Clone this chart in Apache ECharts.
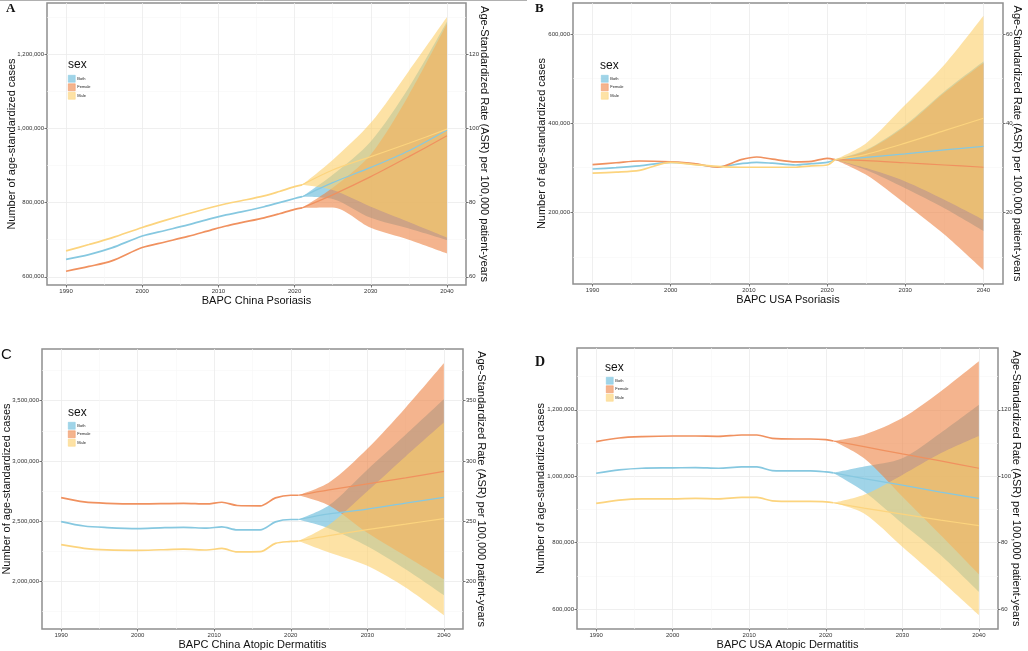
<!DOCTYPE html>
<html>
<head>
<meta charset="utf-8">
<script src="https://cdn.jsdelivr.net/npm/echarts@6/dist/echarts.min.js"></script>
<style>
  html, body { margin: 0; padding: 0; background: #fff; }
  #chart { width: 1028px; height: 651px; }
</style>
</head>
<body>
<div id="chart"></div>
<script>
// ---- data ----
const histYears = [1990, 1993, 1996, 2000, 2003, 2006, 2009, 2011, 2013, 2016, 2018, 2020, 2021];
const projYears = [2021, 2025, 2030, 2035, 2040];
const yearTicks = [1990, 2000, 2010, 2020, 2030, 2040];
const sexes = ['Both', 'Female', 'Male'];

// A: China psoriasis
const aHistBoth   = [647000, 660000, 678000, 710000, 725000, 740000, 757000, 767000, 775000, 789000, 800000, 811000, 816000];
const aHistFemale = [615000, 628000, 643000, 679000, 694000, 709000, 726000, 737000, 746000, 759000, 770000, 782000, 786000];
const aHistMale   = [670000, 687000, 705000, 733000, 752000, 770000, 787000, 797000, 805000, 818000, 830000, 843000, 848000];
const aProjBoth   = [816000, 854000, 895000, 940000, 996000];
const aProjFemale = [786000, 821000, 870000, 924000, 980000];
const aProjMale   = [848000, 888000, 924000, 960000, 998000];
const aLowBoth    = [816000, 810000, 759000, 730000, 699000];
const aUpBoth     = [816000, 875000, 965000, 1110000, 1288000];
const aLowFemale  = [786000, 787000, 732000, 700000, 663000];
const aUpFemale   = [786000, 840000, 930000, 1090000, 1282000];
const aLowMale    = [848000, 834000, 789000, 748000, 706000];
const aUpMale     = [848000, 915000, 1015000, 1155000, 1300000];
const aCaseTicks  = [600000, 800000, 1000000, 1200000];
const aRateTicks  = [60, 80, 100, 120];

// B: USA psoriasis
const bHistBoth   = [297000, 300000, 304000, 312000, 308000, 302000, 309000, 312000, 310000, 306000, 309000, 312000, 318000];
const bHistFemale = [307000, 311000, 315000, 313000, 309000, 301000, 318000, 324000, 319000, 313000, 314000, 321000, 318000];
const bHistMale   = [288000, 290000, 294000, 312000, 307000, 303000, 301000, 301000, 301000, 301000, 304000, 306000, 318000];
const bProjBoth   = [318000, 323000, 331000, 340000, 348000];
const bProjFemale = [318000, 316000, 311000, 306000, 301000];
const bProjMale   = [318000, 330000, 355000, 383000, 411000];
const bLowBoth    = [318000, 295000, 254000, 209000, 158000];
const bUpBoth     = [318000, 340000, 396000, 471000, 538000];
const bLowFemale  = [318000, 284000, 219000, 150000, 70000];
const bUpFemale   = [318000, 338000, 393000, 468000, 535000];
const bLowMale    = [318000, 299000, 269000, 228000, 183000];
const bUpMale     = [318000, 355000, 441000, 531000, 641000];
const bCaseTicks  = [200000, 400000, 600000];
const bRateTicks  = [20, 40, 60];

// C: China atopic dermatitis
const cHistBoth   = [2497000, 2460000, 2447000, 2439000, 2445000, 2449000, 2442000, 2453000, 2428000, 2428000, 2494000, 2514000, 2514000];
const cHistFemale = [2695000, 2660000, 2648000, 2643000, 2645000, 2648000, 2643000, 2657000, 2630000, 2627000, 2693000, 2715000, 2715000];
const cHistMale   = [2305000, 2275000, 2262000, 2258000, 2263000, 2268000, 2261000, 2274000, 2245000, 2247000, 2316000, 2332000, 2335000];
const cProjBoth   = [2514000, 2560000, 2600000, 2650000, 2698000];
const cProjFemale = [2715000, 2760000, 2810000, 2860000, 2913000];
const cProjMale   = [2335000, 2380000, 2430000, 2475000, 2522000];
const cLowBoth    = [2514000, 2440000, 2293000, 2101000, 1886000];
const cUpBoth     = [2514000, 2632000, 2927000, 3217000, 3511000];
const cLowFemale  = [2715000, 2630000, 2404000, 2211000, 2018000];
const cUpFemale   = [2715000, 2820000, 3100000, 3440000, 3809000];
const cLowMale    = [2335000, 2240000, 2130000, 1950000, 1720000];
const cUpMale     = [2335000, 2470000, 2748000, 3037000, 3318000];
const cCaseTicks  = [2000000, 2500000, 3000000, 3500000];
const cRateTicks  = [200, 250, 300, 350];

// D: USA atopic dermatitis
const dHistBoth   = [1009000, 1019000, 1024000, 1025000, 1026000, 1024000, 1028000, 1028000, 1017000, 1016000, 1016000, 1013000, 1010000];
const dHistFemale = [1104000, 1115000, 1119000, 1121000, 1121000, 1120000, 1124000, 1124000, 1114000, 1112000, 1112000, 1110000, 1106000];
const dHistMale   = [918000, 928000, 932000, 932000, 933000, 932000, 936000, 936000, 926000, 924000, 924000, 923000, 920000];
const dProjBoth   = [1010000, 993000, 973000, 952000, 933000];
const dProjFemale = [1106000, 1089000, 1067000, 1046000, 1024000];
const dProjMale   = [920000, 904000, 886000, 868000, 851000];
const dLowBoth    = [1010000, 954000, 858000, 763000, 652000];
const dUpBoth     = [1010000, 1029000, 1054000, 1130000, 1215000];
const dLowFemale  = [1106000, 1054000, 939000, 823000, 705000];
const dUpFemale   = [1106000, 1125000, 1175000, 1255000, 1346000];
const dLowMale    = [920000, 888000, 788000, 687000, 582000];
const dUpMale     = [920000, 944000, 1004000, 1069000, 1121000];
const dCaseTicks  = [600000, 800000, 1000000, 1200000];
const dRateTicks  = [60, 80, 100, 120];

// ---- styling / layout ----
const FONT = '"Liberation Sans", Arial, sans-serif';
const lineColors = { Both: '#86c8e0', Female: '#f0915f', Male: '#fcd47e' };
const fillColors = { Both: 'rgba(97,183,217,0.6)', Female: 'rgba(237,130,67,0.6)', Male: 'rgba(252,207,105,0.6)' };

const panels = [
  {
    title: 'BAPC China Psoriasis', letter: 'A', letterFont: 'bold 13px "Liberation Serif", serif', letterPos: [6, 2],
    hist: { Both: aHistBoth, Female: aHistFemale, Male: aHistMale },
    proj: { Both: aProjBoth, Female: aProjFemale, Male: aProjMale },
    low: { Both: aLowBoth, Female: aLowFemale, Male: aLowMale },
    up: { Both: aUpBoth, Female: aUpFemale, Male: aUpMale },
    caseTicks: aCaseTicks, rateTicks: aRateTicks,
    yMin: 578000, yMax: 1338000, split: 5,
    grid: { left: 47, top: 3, width: 419, height: 282 },
    leftGap: 30, rightGap: 13, sexPos: [68, 59], legendPos: [68, 75]
  },
  {
    title: 'BAPC USA Psoriasis', letter: 'B', letterFont: 'bold 13px "Liberation Serif", serif', letterPos: [535, 2],
    hist: { Both: bHistBoth, Female: bHistFemale, Male: bHistMale },
    proj: { Both: bProjBoth, Female: bProjFemale, Male: bProjMale },
    low: { Both: bLowBoth, Female: bLowFemale, Male: bLowMale },
    up: { Both: bUpBoth, Female: bUpFemale, Male: bUpMale },
    caseTicks: bCaseTicks, rateTicks: bRateTicks,
    yMin: 39000, yMax: 669500, split: 3,
    grid: { left: 573, top: 3, width: 430, height: 281 },
    leftGap: 26, rightGap: 9, sexPos: [600, 60], legendPos: [601, 75]
  },
  {
    title: 'BAPC China Atopic Dermatitis', letter: 'C', letterFont: '15px "Liberation Sans", Arial, sans-serif', letterPos: [1, 347],
    hist: { Both: cHistBoth, Female: cHistFemale, Male: cHistMale },
    proj: { Both: cProjBoth, Female: cProjFemale, Male: cProjMale },
    low: { Both: cLowBoth, Female: cLowFemale, Male: cLowMale },
    up: { Both: cUpBoth, Female: cUpFemale, Male: cUpMale },
    caseTicks: cCaseTicks, rateTicks: cRateTicks,
    yMin: 1606000, yMax: 3928000, split: 5,
    grid: { left: 42, top: 349, width: 421, height: 281 },
    leftGap: 30, rightGap: 13, sexPos: [68, 407], legendPos: [68, 422]
  },
  {
    title: 'BAPC USA Atopic Dermatitis', letter: 'D', letterFont: 'bold 14px "Liberation Serif", serif', letterPos: [535, 355],
    hist: { Both: dHistBoth, Female: dHistFemale, Male: dHistMale },
    proj: { Both: dProjBoth, Female: dProjFemale, Male: dProjMale },
    low: { Both: dLowBoth, Female: dLowFemale, Male: dLowMale },
    up: { Both: dUpBoth, Female: dUpFemale, Male: dUpMale },
    caseTicks: dCaseTicks, rateTicks: dRateTicks,
    yMin: 540000, yMax: 1386000, split: 5,
    grid: { left: 577, top: 348, width: 421, height: 281 },
    leftGap: 31, rightGap: 13, sexPos: [605, 362], legendPos: [606, 377]
  }
];

const grids = [], xAxes = [], yAxes = [], series = [], legends = [], graphics = [];

const gridLine = { show: true, lineStyle: { color: '#ebebeb', width: 0.8 } };
const minorLine = { show: true, lineStyle: { color: '#f6f6f6', width: 0.6 } };
const tickLine = { color: '#555', width: 0.8 };
const labelStyle = { fontSize: 6, color: '#333', fontFamily: FONT, margin: 3 };
const nameStyle = { fontSize: 11, color: '#111', fontFamily: FONT };

panels.forEach((p, i) => {
  grids.push(Object.assign({ show: true, borderColor: '#8f8f8f', borderWidth: 1.5, backgroundColor: '#fff' }, p.grid));

  xAxes.push({
    type: 'value', gridIndex: i, min: 1987.5, max: 2042.5, splitNumber: 5,
    name: p.title, nameLocation: 'middle', nameGap: 10, nameMoveOverlap: false, nameTextStyle: nameStyle,
    axisLine: { show: false },
    axisTick: { show: true, length: 2.5, lineStyle: tickLine, customValues: yearTicks },
    axisLabel: Object.assign({ customValues: yearTicks, formatter: v => String(v) }, labelStyle),
    splitLine: gridLine, minorTick: { show: false, splitNumber: 2 }, minorSplitLine: minorLine
  });

  yAxes.push({
    type: 'value', gridIndex: i, position: 'left', min: p.yMin, max: p.yMax, splitNumber: p.split,
    name: 'Number of age-standardized cases', nameLocation: 'middle', nameGap: p.leftGap,
    nameMoveOverlap: false, nameTextStyle: nameStyle,
    axisLine: { show: false },
    axisTick: { show: true, length: 2.5, lineStyle: tickLine, customValues: p.caseTicks },
    axisLabel: Object.assign({ customValues: p.caseTicks, formatter: v => v.toLocaleString('en-US') }, labelStyle),
    splitLine: gridLine, minorTick: { show: false, splitNumber: 2 }, minorSplitLine: minorLine
  });
  yAxes.push({
    type: 'value', gridIndex: i, position: 'right', min: p.yMin / 10000, max: p.yMax / 10000, splitNumber: p.split,
    name: 'Age-Standardized Rate (ASR) per 100,000 patient-years', nameLocation: 'middle',
    nameGap: p.rightGap, nameRotate: -90, nameMoveOverlap: false, nameTextStyle: nameStyle,
    axisLine: { show: false },
    axisTick: { show: true, length: 2.5, lineStyle: tickLine, customValues: p.rateTicks },
    axisLabel: Object.assign({ customValues: p.rateTicks, formatter: v => String(v) }, labelStyle),
    splitLine: { show: false }
  });

  const common = { type: 'line', xAxisIndex: i, yAxisIndex: 2 * i, symbol: 'none', smooth: 0.3,
                   encode: { x: 1, y: 0 }, silent: true, animation: false };

  // fitted lines (history, then projected mean) under the ribbons
  sexes.forEach(s => {
    series.push(Object.assign({}, common, {
      name: s, lineStyle: { color: lineColors[s], width: 1.7 },
      data: histYears.map((y, k) => [p.hist[s][k], y])
    }));
    series.push(Object.assign({}, common, {
      name: s, lineStyle: { color: lineColors[s], width: 1.2 },
      data: projYears.map((y, k) => [p.proj[s][k], y])
    }));
  });

  // prediction ribbons: lower bound + stacked width
  sexes.forEach(s => {
    const stack = 'band' + i + s;
    series.push(Object.assign({}, common, {
      name: s, stack: stack, lineStyle: { opacity: 0 },
      data: projYears.map((y, k) => [p.low[s][k], y])
    }));
    series.push(Object.assign({}, common, {
      name: s, stack: stack, lineStyle: { opacity: 0 },
      areaStyle: { color: fillColors[s], opacity: 1 },
      data: projYears.map((y, k) => [p.up[s][k] - p.low[s][k], y])
    }));
  });

  legends.push({
    left: p.legendPos[0], top: p.legendPos[1], orient: 'vertical', padding: 0,
    itemWidth: 7, itemHeight: 7, itemGap: 1, icon: 'rect', selectedMode: false,
    textStyle: { fontSize: 4, color: '#222', fontFamily: FONT, padding: [0, 0, 0, -3] },
    data: sexes.map(s => ({ name: s, itemStyle: { color: fillColors[s], borderColor: lineColors[s], borderWidth: 0.5 } }))
  });

  graphics.push({ type: 'text', left: p.sexPos[0], top: p.sexPos[1],
                  style: { text: 'sex', font: '12px ' + FONT, fill: '#111' } });
  graphics.push({ type: 'text', left: p.letterPos[0], top: p.letterPos[1],
                  style: { text: p.letter, font: p.letterFont, fill: '#111' } });
});

graphics.push({ type: 'line', shape: { x1: 0, y1: 0.5, x2: 527, y2: 0.5 }, style: { stroke: '#b0b0b0', lineWidth: 1 } });

const chart = echarts.init(document.getElementById('chart'));
chart.setOption({
  animation: false,
  backgroundColor: '#fff',
  grid: grids,
  xAxis: xAxes,
  yAxis: yAxes,
  legend: legends,
  graphic: graphics,
  series: series
});
</script>
</body>
</html>
